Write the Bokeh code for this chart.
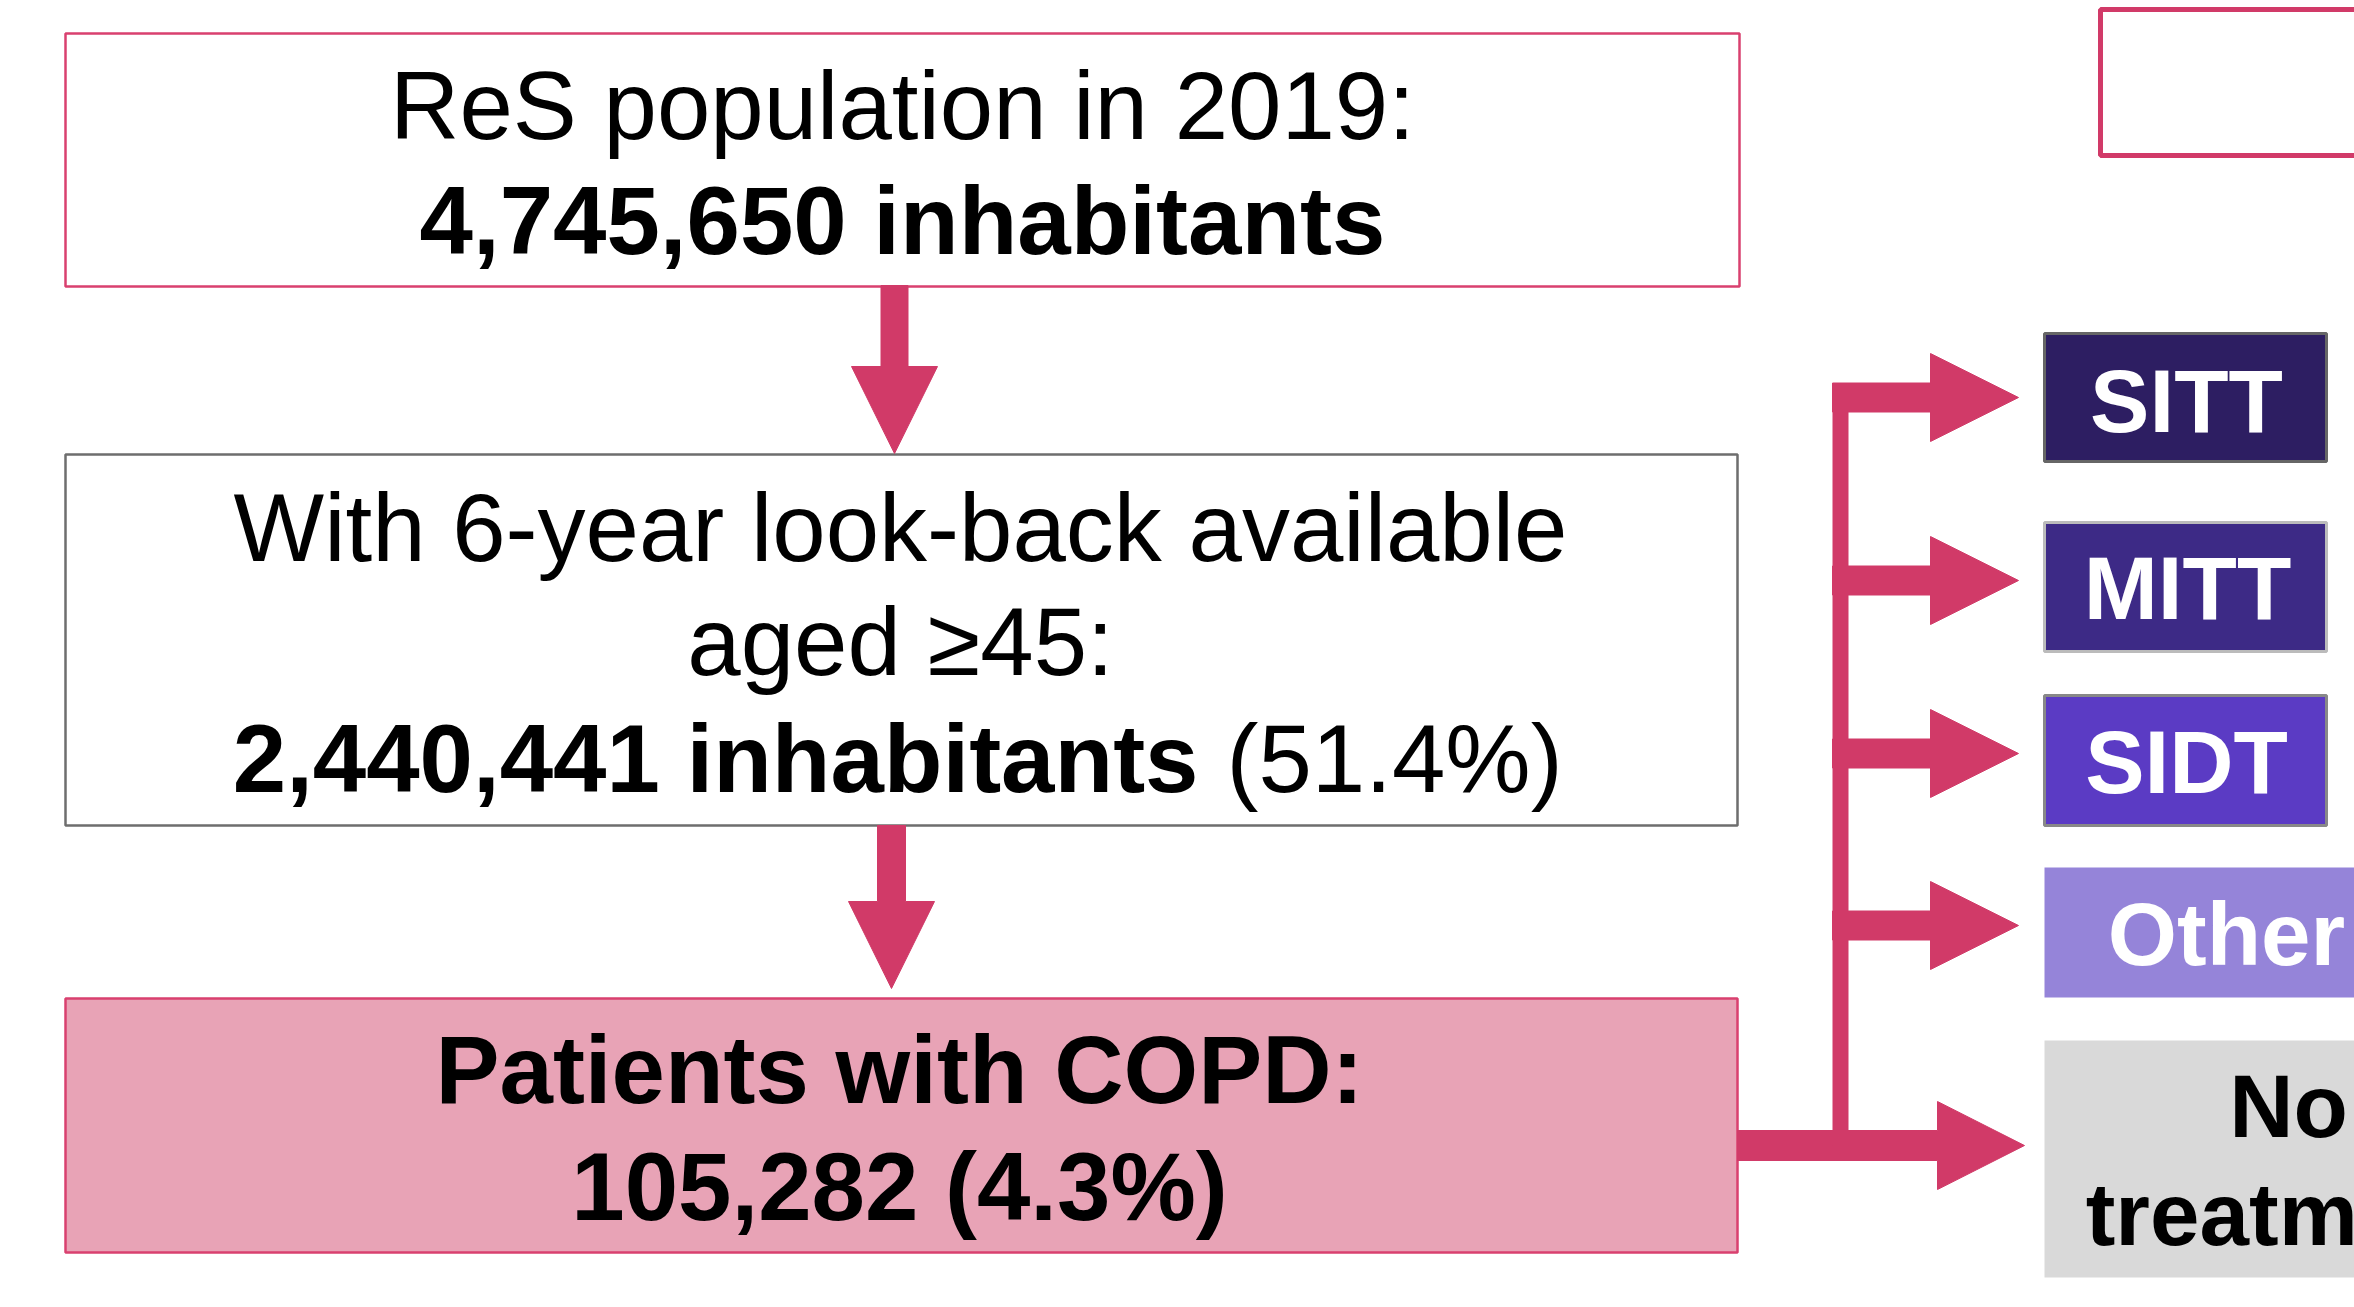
from bokeh.plotting import figure
from bokeh.models import Range1d, ColumnDataSource
from bokeh.core.properties import value
from bokeh.embed import file_html
from bokeh.resources import INLINE

# ---------------- data ----------------
pop_year = "2019"
pop_total = "4,745,650"
lookback_years = "6"
min_age = "45"
lookback_n = "2,440,441"
lookback_pct = "51.4%"
copd_n = "105,282"
copd_pct = "4.3%"
treatments = ["SITT", "MITT", "SIDT", "Other", "No treatment"]

# ---------------- styles / layout ----------------
FONT = value("Liberation Sans")
PINK = "#D13A68"
BOX_PINK = "#D9406F"
treat_fill = ["#2D1E62", "#3D2A86", "#5B3BC4", "#9584D9", "#D9D9D9"]
treat_line = ["#666666", "#BBBBBB", "#888888", None, None]
treat_text_color = ["white", "white", "white", "white", "black"]
treat_top = [333, 522, 695, 867, 1040]
treat_bot = [461, 651, 825, 997, 1277]
treat_left = [2044] * 5
treat_right = [2326, 2326, 2326, 2430, 2560]
treat_arrow_y = [397, 580, 753, 925, 1145]
BASE_SHIFT = 33  # renderer draws alphabetic baseline lower than requested

W, H = 2354, 1307
p = figure(width=W, height=H, x_range=Range1d(0, W), y_range=Range1d(H, 0),
           output_backend="svg", toolbar_location=None, min_border=0)
p.axis.visible = False
p.xgrid.visible = False
p.ygrid.visible = False
p.outline_line_color = None
p.background_fill_color = "white"
p.border_fill_color = "white"

# left-column boxes
lb = ColumnDataSource(dict(
    left=[65, 65, 65], right=[1739, 1737, 1737], top=[33, 454, 998], bottom=[286, 825, 1252],
    fill=["white", "white", "#E8A3B6"], line=[BOX_PINK, "#6E6E6E", BOX_PINK]))
p.quad(left="left", right="right", top="top", bottom="bottom", fill_color="fill",
       line_color="line", line_width=2.5, source=lb)

# top-right outlined box
p.quad(left=[2100], right=[2440], top=[9], bottom=[155], fill_color="white",
       line_color=PINK, line_width=5)

# treatment boxes
for i in range(len(treatments)):
    p.quad(left=[treat_left[i]], right=[treat_right[i]], top=[treat_top[i]], bottom=[treat_bot[i]],
           fill_color=treat_fill[i], line_color=treat_line[i], line_width=3)

# ---------------- arrows ----------------
def down_arrow(xc, y0, ybase, ytip, sh, hh):
    return ([xc - sh, xc - sh, xc - hh, xc, xc + hh, xc + sh, xc + sh],
            [y0, ybase, ybase, ytip, ybase, ybase, y0])

def right_arrow(x0, xbase, xtip, yc, sh, hh):
    return ([x0, xbase, xbase, xtip, xbase, xbase, x0],
            [yc - sh, yc - sh, yc - hh, yc, yc + hh, yc + sh, yc + sh])

axs, ays = [], []
for a in (down_arrow(894, 285, 366, 453, 13.5, 43), down_arrow(891, 825, 901, 988, 14, 43)):
    axs.append(a[0]); ays.append(a[1])
for yc in treat_arrow_y[:4]:
    a = right_arrow(1832, 1930, 2018, yc, 14.5, 44)
    axs.append(a[0]); ays.append(a[1])
a = right_arrow(1737, 1937, 2024, treat_arrow_y[4], 15, 44)
axs.append(a[0]); ays.append(a[1])
p.patches(xs=axs, ys=ays, fill_color=PINK, line_color=PINK, line_width=1)
# vertical connector
p.quad(left=[1832], right=[1848], top=[385], bottom=[treat_arrow_y[4]], fill_color=PINK, line_color=None)

# ---------------- texts ----------------
def txt(x, y, s, size, style="normal", align="center", color="black"):
    p.text(x=[x], y=[y - BASE_SHIFT], text=[s], text_font=FONT, text_font_size=size,
           text_font_style=style, text_align=align, text_baseline="alphabetic", text_color=color)

FS = "96px"
txt(902, 138, f"ReS population in {pop_year}:", FS)
txt(902, 253, f"{pop_total} inhabitants", FS, "bold")
txt(900, 560, f"With {lookback_years}-year look-back available", FS)
txt(900, 674, f"aged \u2265{min_age}:", FS)
txt(1198, 791, f"{lookback_n} inhabitants", FS, "bold", align="right")
txt(1226, 791, f"({lookback_pct})", FS, "normal", align="left")
txt(899, 1102, "Patients with COPD:", FS, "bold")
txt(899, 1219, f"{copd_n} ({copd_pct})", FS, "bold")

RS = "89px"
treat_cx = [2186, 2187, 2186, 2226, 2288]
treat_base = [433, 620, 794, 966, 1138]
for i, t in enumerate(treatments):
    if t == "No treatment":
        txt(treat_cx[i], 1138, "No", RS, "bold", color=treat_text_color[i])
        txt(treat_cx[i], 1246, "treatment", RS, "bold", color=treat_text_color[i])
    else:
        txt(treat_cx[i], treat_base[i], t, RS, "bold", color=treat_text_color[i])

open("out.html", "w").write(file_html(p, INLINE))
